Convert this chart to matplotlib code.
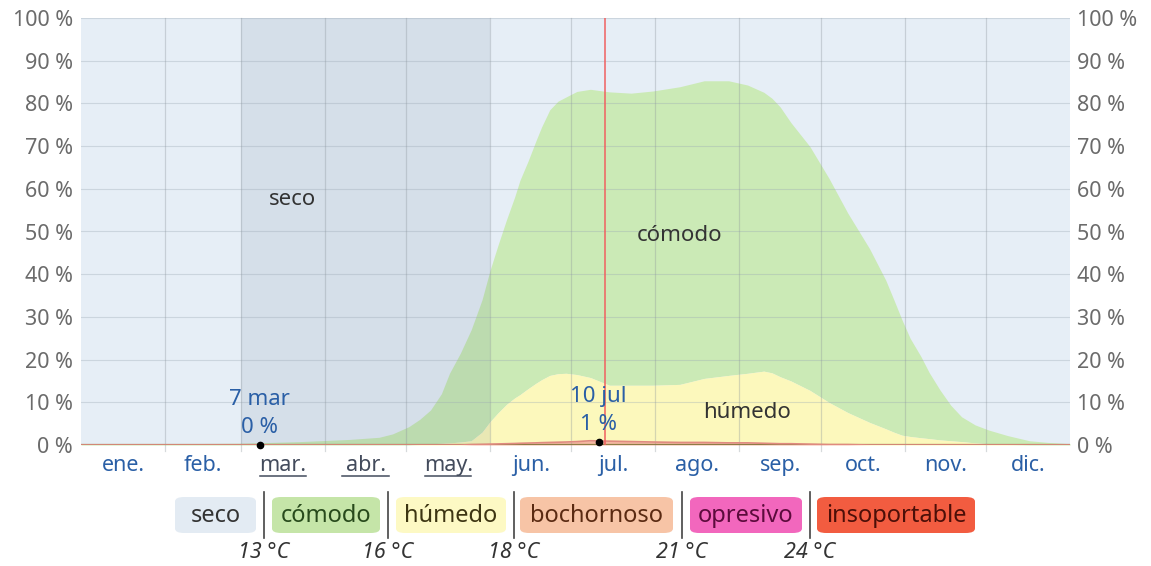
import matplotlib.pyplot as plt
from matplotlib.patches import FancyBboxPatch
from matplotlib.lines import Line2D

plt.rcParams["font.family"] = ["Noto Sans", "DejaVu Sans"]

# dia del año (0 = 1 ene); borde superior de cada banda (% acumulado)
days = [0, 31, 59, 81, 99, 110, 115, 121, 125, 129, 133, 136, 140, 144, 148,
        151, 154, 157, 160, 162, 165, 168, 170, 173, 176, 179, 183, 188, 195,
        203, 211, 221, 230, 239, 246, 252, 255, 258, 262, 269, 276, 283, 291,
        297, 300, 303, 306, 310, 313, 317, 321, 325, 330, 335, 342, 350, 357, 365]
tope_bochornoso = [0, 0, 0, 0, 0, 0, 0, 0, 0, 0, 0, 0, 0, 0.1, 0.15,
                   0.2, 0.25, 0.3, 0.35, 0.4, 0.45, 0.5, 0.55, 0.6, 0.65, 0.7, 0.8, 1.0, 0.9,
                   0.8, 0.7, 0.6, 0.6, 0.5, 0.5, 0.4, 0.35, 0.3, 0.3, 0.2, 0.1, 0.1, 0,
                   0, 0, 0, 0, 0, 0, 0, 0, 0, 0, 0, 0, 0, 0, 0]
tope_humedo = [0, 0, 0, 0, 0, 0, 0, 0, 0.1, 0.3, 0.4, 0.5, 0.7, 1.0, 3.0,
               5.5, 7.6, 9.5, 11.0, 11.8, 13.2, 14.5, 15.3, 16.3, 16.7, 16.8, 16.5, 15.8, 14.0,
               14.0, 14.0, 14.2, 15.6, 16.3, 16.8, 17.3, 16.9, 16.0, 15.0, 12.8, 10.0, 7.6, 5.3,
               3.8, 3.0, 2.3, 2.0, 1.7, 1.5, 1.2, 1.0, 0.8, 0.5, 0.3, 0.1, 0, 0, 0]
tope_comodo = [0.3, 0.3, 0.4, 0.8, 1.3, 1.8, 2.6, 4.3, 6.0, 8.2, 12.0, 16.8, 21.5, 27.0, 34.0,
               41.0, 47.0, 52.7, 58.0, 62.0, 66.5, 71.4, 74.5, 78.5, 80.5, 81.5, 82.8, 83.3, 82.7,
               82.4, 82.9, 83.9, 85.3, 85.3, 84.3, 82.6, 81.2, 79.2, 75.5, 69.9, 62.5, 54.3, 46.0,
               38.6, 34.0, 29.3, 25.0, 20.7, 17.0, 12.9, 9.3, 6.6, 4.7, 3.5, 2.2, 1.0, 0.6, 0.3]

month_starts = [0, 31, 59, 90, 120, 151, 181, 212, 243, 273, 304, 334, 365]
month_labels = ["ene.", "feb.", "mar.", "abr.", "may.", "jun.", "jul.",
                "ago.", "sep.", "oct.", "nov.", "dic."]
linked_months = ["mar.", "abr.", "may."]
dry_season = (59, 151)
today = 193.4

marks = [(66, 0.0, "7 mar\n0 %"), (191, 0.7, "10 jul\n1 %")]

legend_names = ["seco", "cómodo", "húmedo", "bochornoso", "opresivo", "insoportable"]
legend_bg = ["#e3ebf3", "#c5e5a8", "#fdf9c4", "#f7c4a6", "#f267bd", "#f25c40"]
legend_fg = ["#333333", "#284a1c", "#3d3512", "#5a2a12", "#5c0b3c", "#4c0f08"]
limits = ["13 °C", "16 °C", "18 °C", "21 °C", "24 °C"]

W, H = 1151, 566
fig = plt.figure(figsize=(W / 100, H / 100), dpi=100)
ax = fig.add_axes([81 / W, 1 - 445 / H, 989 / W, 427 / H])
ax.set_facecolor("#e6eef6")

ax.fill_between(days, tope_humedo, tope_comodo, color="#cbeab6", lw=0, zorder=1)
ax.fill_between(days, tope_bochornoso, tope_humedo, color="#fcf8bc", lw=0, zorder=1)
ax.fill_between(days, 0, tope_bochornoso, color="#f4b8a0", lw=0, zorder=1)
ax.axvspan(dry_season[0], dry_season[1], color="#2a4a6a", alpha=0.09, lw=0, zorder=2)
ax.plot([0, 365], [0, 0], color="#8d7d45", lw=1.6, zorder=3)
ax.plot(days, tope_bochornoso, color="#e08a80", lw=1.2, zorder=3)

for y in range(10, 101, 10):
    ax.axhline(y, color="#9aa8b4", lw=0.8, alpha=0.35, zorder=2.5)
for d in month_starts[1:-1]:
    ax.plot([d, d], [-1.5, 100], color="#8c959c", lw=0.9, alpha=0.35,
            zorder=2.5, clip_on=False)
ax.axvline(today, color="#f06060", lw=1.1, zorder=4)

ax.set_xlim(0, 365)
ax.set_ylim(0, 100)
for s in ax.spines.values():
    s.set_visible(False)

yt = list(range(0, 101, 10))
ax.set_yticks(yt)
ax.set_yticklabels([f"{v} %" for v in yt], fontsize=15.5, color="#6b6b6b")
ax.tick_params(axis="y", length=0, pad=6)
ax.set_xticks([])
ax2 = ax.twinx()
ax2.set_ylim(0, 100)
ax2.set_yticks(yt)
ax2.set_yticklabels([f"{v} %" for v in yt], fontsize=15.5, color="#6b6b6b")
ax2.tick_params(axis="y", length=0, pad=5)
for s in ax2.spines.values():
    s.set_visible(False)

for i, lab in enumerate(month_labels):
    mid = (month_starts[i] + month_starts[i + 1]) / 2
    linked = lab in linked_months
    ax.text(mid, -4.7, lab, ha="center", va="center", fontsize=15.5,
            color="#434b5c" if linked else "#2a5fa6")
    if linked:
        ax.add_line(Line2D([mid - 8.5, mid + 8.5], [-7.3, -7.3], color="#434b5c",
                           lw=1.1, clip_on=False))

for d, v, txt in marks:
    ax.plot(d, v, "o", color="black", ms=4.5, zorder=6, clip_on=False)
    ax.text(d, v + 1.6, txt, ha="center", va="bottom", fontsize=16,
            color="#2a5fa6", linespacing=1.45, zorder=6)

ax.text(78, 57.5, "seco", ha="center", va="center", fontsize=16, color="#333333", zorder=6)
ax.text(221, 49, "cómodo", ha="center", va="center", fontsize=16, color="#333333", zorder=6)
ax.text(246, 7.7, "húmedo", ha="center", va="center", fontsize=16, color="#333333", zorder=6)

# leyenda
box_x = [(175, 256), (272, 380), (396, 506), (520, 673), (690, 802), (817, 975)]
seps = [264, 388, 514, 682, 810]
for (x0, x1), name, bg, fg in zip(box_x, legend_names, legend_bg, legend_fg):
    p = FancyBboxPatch((x0 / W, 1 - 533 / H), (x1 - x0) / W, 36 / H,
                       boxstyle="round,pad=0,rounding_size=0.008",
                       transform=fig.transFigure, facecolor=bg, edgecolor="none")
    fig.patches.append(p)
    fig.text((x0 + x1) / 2 / W, 1 - 516 / H, name, ha="center", va="center",
             fontsize=17, color=fg)
for sx, lab in zip(seps, limits):
    fig.add_artist(Line2D([sx / W, sx / W], [1 - 538 / H, 1 - 492 / H],
                          color="#444444", lw=1.2, transform=fig.transFigure))
    fig.text(sx / W, 1 - 552 / H, lab, ha="center", va="center", fontsize=15.5,
             style="italic", color="#333333")

plt.savefig("out.png", dpi=100)
